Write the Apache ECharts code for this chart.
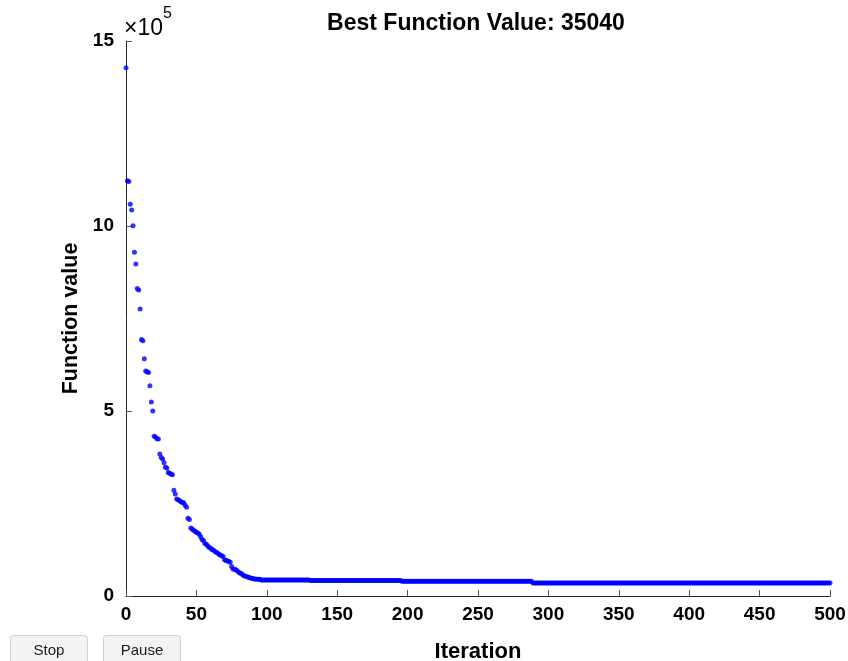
<!DOCTYPE html>
<html>
<head>
<meta charset="utf-8">
<script src="https://cdn.jsdelivr.net/npm/echarts@6/dist/echarts.min.js"></script>
<style>
  html, body { margin: 0; padding: 0; background: #ffffff; }
  #chart { width: 848px; height: 661px; }
</style>
</head>
<body>
<div id="chart"></div>
<script>
// ---- Data ----
const titleText = 'Best Function Value: 35040';
const xTicks = [0, 50, 100, 150, 200, 250, 300, 350, 400, 450, 500];
const yTicks = [0, 5, 10, 15];           // in units of 1e5

// Best function value per iteration for iterations 0..95 (units of 1e5)
const earlyValues = [
  14.28, 11.22, 11.20, 10.59, 10.43, 10.01, 9.29, 8.97, 8.31, 8.27,
  7.76, 6.93, 6.90, 6.41, 6.08, 6.06, 6.04, 5.68, 5.24, 5.00,
  4.32, 4.30, 4.25, 4.24, 3.84, 3.74, 3.70, 3.60, 3.48, 3.46,
  3.34, 3.32, 3.30, 3.28, 2.86, 2.76, 2.62, 2.60, 2.58, 2.55,
  2.53, 2.52, 2.45, 2.40, 2.10, 2.07, 1.84, 1.81, 1.78, 1.75,
  1.72, 1.70, 1.67, 1.60, 1.53, 1.50, 1.42, 1.40, 1.36, 1.31,
  1.30, 1.26, 1.24, 1.21, 1.18, 1.16, 1.13, 1.11, 1.09, 1.07,
  0.98, 0.96, 0.95, 0.93, 0.91, 0.80, 0.73, 0.72, 0.71, 0.68,
  0.64, 0.62, 0.60, 0.57, 0.55, 0.53, 0.52, 0.51, 0.49, 0.48,
  0.47, 0.46, 0.46, 0.45, 0.45, 0.45
];
// Plateau runs after iteration 95 (value held constant over each run)
const plateauStart = [96, 131, 196, 289];
const plateauEnd   = [130, 195, 288, 500];
const plateauValue = [0.43, 0.42, 0.40, 0.3504];

// ---- Build series ----
const points = [];
earlyValues.forEach((v, i) => points.push([i, v * 1e5]));
for (let k = 0; k < plateauStart.length; k++) {
  for (let it = plateauStart[k]; it <= plateauEnd[k]; it++) {
    points.push([it, plateauValue[k] * 1e5]);
  }
}

const chart = echarts.init(document.getElementById('chart'), null, { renderer: 'canvas' });
const boldFont = 'Liberation Sans, Arial, Helvetica, sans-serif';

const option = {
  backgroundColor: '#ffffff',
  animation: false,
  title: {
    text: titleText,
    left: 471,
    top: 7,
    textAlign: 'center',
    textStyle: { fontFamily: boldFont, fontWeight: 'bold', fontSize: 23, color: '#000000' }
  },
  grid: {
    left: 126, right: 18, top: 41, bottom: 65,
    containLabel: false, outerBoundsMode: 'none'
  },
  xAxis: {
    type: 'value',
    min: xTicks[0], max: xTicks[xTicks.length - 1], interval: 50,
    name: 'Iteration',
    nameLocation: 'middle',
    nameGap: 45,
    nameTextStyle: { fontFamily: boldFont, fontWeight: 'bold', fontSize: 22, color: '#000000' },
    axisLine: { show: true, onZero: false, lineStyle: { color: '#262626', width: 1 } },
    axisTick: { show: true, inside: true, length: 6, lineStyle: { color: '#555555' } },
    axisLabel: { fontFamily: boldFont, fontWeight: 'bold', fontSize: 19, color: '#000000', margin: 9 },
    splitLine: { show: false }
  },
  yAxis: {
    type: 'value',
    min: 0, max: 15e5, interval: 5e5,
    name: 'Function value',
    nameLocation: 'middle',
    nameGap: 42,
    nameRotate: 90,
    nameTextStyle: { fontFamily: boldFont, fontWeight: 'bold', fontSize: 21.5, color: '#000000' },
    axisLine: { show: true, onZero: false, lineStyle: { color: '#262626', width: 1 } },
    axisTick: { show: true, inside: true, length: 6, lineStyle: { color: '#555555' } },
    axisLabel: {
      fontFamily: boldFont, fontWeight: 'bold', fontSize: 19, color: '#000000', margin: 12,
      formatter: v => String(Math.round(v / 1e5))
    },
    splitLine: { show: false }
  },
  series: [{
    type: 'scatter',
    data: points,
    symbol: 'circle',
    symbolSize: 5,
    itemStyle: { color: '#0000ff' },
    silent: true
  }],
  graphic: [
    {
      type: 'text',
      left: 124, top: 6,
      style: {
        text: '{a|\u00d710}{b|5}',
        rich: {
          a: { fontFamily: boldFont, fontSize: 23, fill: '#000000', verticalAlign: 'bottom', padding: [11, 0, 0, 0] },
          b: { fontFamily: boldFont, fontSize: 16, fill: '#000000', verticalAlign: 'top' }
        }
      }
    },
    {
      type: 'group', left: 10, top: 635,
      children: [
        { type: 'rect', shape: { x: 0, y: 0, width: 77, height: 30, r: 3 },
          style: { fill: '#f3f3f3', stroke: '#cfcfcf', lineWidth: 1 } },
        { type: 'text', x: 38.5, y: 15,
          style: { text: 'Stop', fontFamily: 'Liberation Sans, Arial, sans-serif', fontSize: 15,
                   fill: '#1a1a1a', align: 'center', verticalAlign: 'middle' } }
      ]
    },
    {
      type: 'group', left: 103, top: 635,
      children: [
        { type: 'rect', shape: { x: 0, y: 0, width: 77, height: 30, r: 3 },
          style: { fill: '#f3f3f3', stroke: '#cfcfcf', lineWidth: 1 } },
        { type: 'text', x: 38.5, y: 15,
          style: { text: 'Pause', fontFamily: 'Liberation Sans, Arial, sans-serif', fontSize: 15,
                   fill: '#1a1a1a', align: 'center', verticalAlign: 'middle' } }
      ]
    }
  ]
};
chart.setOption(option);
</script>
</body>
</html>
